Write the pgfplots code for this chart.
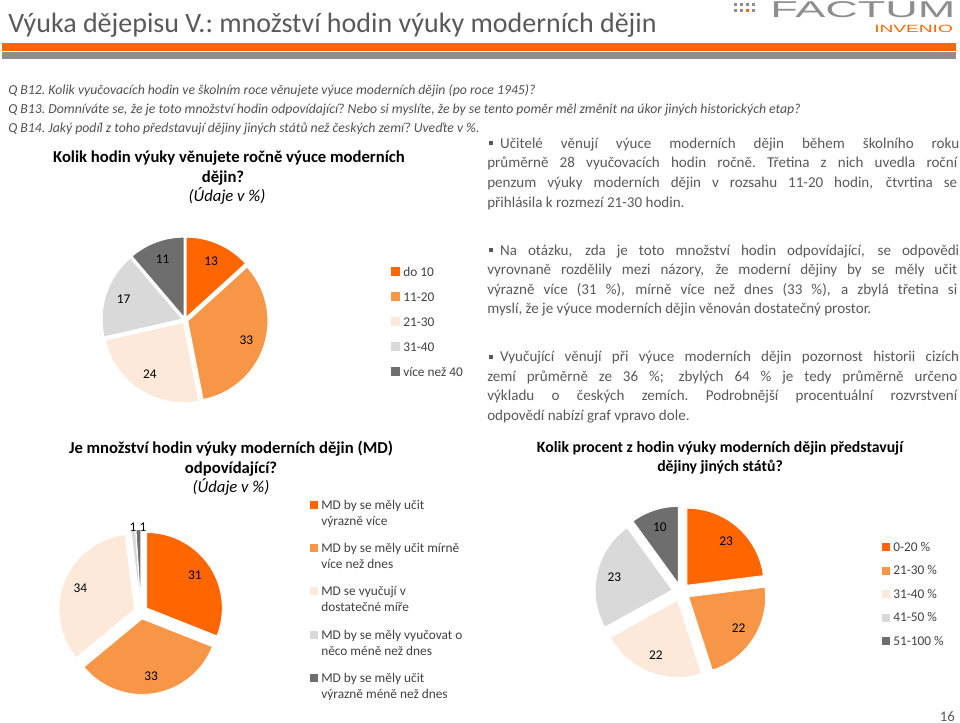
\documentclass[border=0pt]{standalone}
\usepackage{fontspec}
\setmainfont{Carlito}
\newfontfamily\logofont{Liberation Sans}
\usepackage{graphicx}
\usepackage{pgfplots}
\usepackage{pgfplotstable}
\pgfplotsset{compat=1.18}

\definecolor{cO}{HTML}{FF6600}
\definecolor{cLO}{HTML}{F79646}
\definecolor{cP}{HTML}{FDE9D9}
\definecolor{cG}{HTML}{D9D9D9}
\definecolor{cDG}{HTML}{6E6E6E}
\definecolor{barG}{HTML}{8E8E8E}
\definecolor{txtG}{HTML}{595959}
\definecolor{qG}{HTML}{505050}
\definecolor{legT}{HTML}{404040}

% ---- data ----
\pgfplotstableread{
value
13
33
24
17
11
}\pieA
\pgfplotstableread{
value
31
33
34
1
1
}\pieB
\pgfplotstableread{
value
23
22
22
23
10
}\pieC

\newcommand\pieprep[2]{%
  \xdef\pcum{0}%
  \pgfplotstablegetrowsof{#1}%
  \pgfmathtruncatemacro\plast{\pgfplotsretval-1}%
  \foreach \i in {0,...,\plast}{%
    \pgfplotstablegetelem{\i}{value}\of{#1}%
    \expandafter\xdef\csname #2v\i\endcsname{\pgfplotsretval}%
    \expandafter\xdef\csname #2s\i\endcsname{\pcum}%
    \pgfmathsetmacro\ptmp{\pcum+\pgfplotsretval}%
    \xdef\pcum{\ptmp}%
  }%
  \expandafter\xdef\csname #2t\endcsname{\pcum}%
}

\newcommand\pangles[2]{%
  \pgfmathsetmacro\wa{90-360*(\csname #1s#2\endcsname/\csname #1t\endcsname)}%
  \pgfmathsetmacro\wb{90-360*((\csname #1s#2\endcsname+\csname #1v#2\endcsname)/\csname #1t\endcsname)}%
  \pgfmathsetmacro\wm{(\wa+\wb)/2}%
}
% prefix, idx, cx, cy, R(px), e(px), colour
\newcommand\pwedge[7]{%
  \pangles{#1}{#2}%
  \pgfmathsetmacro\wr{0.75*#5}%
  \pgfmathsetmacro\we{0.75*#6}%
  \edef\pwtmp{\noexpand\fill[#7, draw=white, line width=0.6pt, line join=round] (axis cs:#3,#4) ++(\wm:\we pt) -- ++(\wa:\wr pt) arc[start angle=\wa, end angle=\wb, radius=\wr pt] -- cycle;}%
  \pwtmp
}
% prefix, idx, cx, cy, R(px), e(px)
\newcommand\plabel[6]{%
  \pangles{#1}{#2}%
  \pgfmathsetmacro\wl{0.75*(#6+0.77*#5)}%
  \edef\pwtmp{\noexpand\path (axis cs:#3,#4) ++(\wm:\wl pt) node[pielabel] {\csname #1v#2\endcsname};}%
  \pwtmp
}

\tikzset{
  pielabel/.style={inner sep=0pt, font=\fontsize{10}{12}\selectfont, text=black},
  qline/.style={anchor=base west, inner sep=0pt, font=\fontsize{10.3}{12}\selectfont\itshape, text=qG},
  body/.style={anchor=base west, inner sep=0pt, font=\fontsize{11.3}{13}\selectfont, text=txtG},
  ctitle/.style={anchor=base, inner sep=0pt, font=\fontsize{12.5}{14}\selectfont\bfseries, text=black},
  csub/.style={anchor=base, inner sep=0pt, font=\fontsize{12.5}{14}\selectfont\itshape, text=black},
  leg/.style={anchor=west, inner sep=0pt, font=\fontsize{10}{12}\selectfont, text=legT},
  legb/.style={anchor=base west, inner sep=0pt, font=\fontsize{10}{12}\selectfont, text=legT},
}
\newcommand\bul{\textcolor{txtG}{\rule[0.2em]{0.27em}{0.27em}}\hspace{0.45em}}
\newcommand\jl[1]{\makebox[352.5pt][s]{#1}}

\begin{document}
\begin{tikzpicture}
\pieprep{\pieA}{pA}
\pieprep{\pieB}{pB}
\pieprep{\pieC}{pC}
\useasboundingbox (0,0) rectangle (720pt,542.25pt);
\begin{axis}[at={(0,0)}, anchor=south west, x=0.75pt, y=0.75pt,
  xmin=0, xmax=960, ymin=0, ymax=723, y dir=reverse, hide axis, clip=false]

% ---- header ----
\node[anchor=base west, inner sep=0pt, font=\fontsize{21}{24}\selectfont, text=txtG] at (axis cs:8,33) {Výuka dějepisu V.:\ množství hodin výuky moderních dějin};
\fill[cO] (axis cs:2,43) rectangle (axis cs:956,51);
\fill[barG] (axis cs:2,52) rectangle (axis cs:956,59);
% logo
\fill[barG] (axis cs:734,3) rectangle (axis cs:737,6);
\fill[barG] (axis cs:740,3) rectangle (axis cs:743,6);
\fill[barG] (axis cs:746,3) rectangle (axis cs:749,6);
\fill[barG] (axis cs:752,3) rectangle (axis cs:755,6);
\fill[barG] (axis cs:734,9) rectangle (axis cs:737,12);
\fill[barG] (axis cs:740,9) rectangle (axis cs:743,12);
\fill[cO]   (axis cs:746,9) rectangle (axis cs:749,12);
\fill[barG] (axis cs:752,9) rectangle (axis cs:755,12);
\node[anchor=south west, inner sep=0pt, text=barG] at (axis cs:770,18) {\resizebox{138.75pt}{12pt}{\logofont FACTUM}};
\node[anchor=south west, inner sep=0pt, text=cO] at (axis cs:874,33) {\resizebox{59pt}{5.5pt}{\logofont INVENIO}};

% ---- questions ----
\node[qline] at (axis cs:8,95) {Q B12.\ Kolik vyučovacích hodin ve školním roce věnujete výuce moderních dějin (po roce 1945)?};
\node[qline] at (axis cs:8,114) {Q B13.\ Domníváte se, že je toto množství hodin odpovídající?\ Nebo si myslíte, že by se tento poměr měl změnit na úkor jiných historických etap?};
\node[qline] at (axis cs:8,133) {Q B14.\ Jaký podíl z toho představují dějiny jiných států než českých zemí?\ Uveďte v \%.};

% ---- text blocks ----
\node[body] at (axis cs:489,148.5) {\jl{\bul Učitelé věnují výuce moderních dějin během školního roku}};
\node[body] at (axis cs:487,168) {\jl{průměrně 28 vyučovacích hodin ročně.\ Třetina z nich uvedla roční}};
\node[body] at (axis cs:487,188) {\jl{penzum výuky moderních dějin v rozsahu 11-20 hodin, čtvrtina se}};
\node[body] at (axis cs:487,207.5) {přihlásila k rozmezí 21-30 hodin.};

\node[body] at (axis cs:489,255.5) {\jl{\bul Na otázku, zda je toto množství hodin odpovídající, se odpovědi}};
\node[body] at (axis cs:487,275) {\jl{vyrovnaně rozdělily mezi názory, že moderní dějiny by se měly učit}};
\node[body] at (axis cs:487,294.5) {\jl{výrazně více (31 \%), mírně více než dnes (33 \%), a zbylá třetina si}};
\node[body] at (axis cs:487,314) {myslí, že je výuce moderních dějin věnován dostatečný prostor.};

\node[body] at (axis cs:489,362) {\jl{\bul Vyučující věnují při výuce moderních dějin pozornost historii cizích}};
\node[body] at (axis cs:487,381.5) {\jl{zemí průměrně ze 36 \%; zbylých 64 \% je tedy průměrně určeno}};
\node[body] at (axis cs:487,401) {\jl{výkladu o českých zemích.\ Podrobnější procentuální rozvrstvení}};
\node[body] at (axis cs:487,420.5) {odpovědí nabízí graf vpravo dole.};

% ---- chart 1 ----
\node[ctitle] at (axis cs:229,163) {Kolik hodin výuky věnujete ročně výuce moderních};
\node[ctitle] at (axis cs:223,183) {dějin?};
\node[csub] at (axis cs:227,202) {(Údaje v \%)};
\pwedge{pA}{0}{185}{320}{80}{3}{cO}
\pwedge{pA}{1}{185}{320}{80}{3}{cLO}
\pwedge{pA}{2}{185}{320}{80}{3}{cP}
\pwedge{pA}{3}{185}{320}{80}{3}{cG}
\pwedge{pA}{4}{185}{320}{80}{3}{cDG}
\plabel{pA}{0}{185}{320}{80}{3}
\plabel{pA}{1}{185}{320}{80}{3}
\plabel{pA}{2}{185}{320}{80}{3}
\plabel{pA}{3}{185}{320}{80}{3}
\plabel{pA}{4}{185}{320}{80}{3}
\fill[cO]  (axis cs:391,267.5) rectangle (axis cs:400,276.5);
\fill[cLO] (axis cs:391,292.5) rectangle (axis cs:400,301.5);
\fill[cP]  (axis cs:391,317.5) rectangle (axis cs:400,326.5);
\fill[cG]  (axis cs:391,342.5) rectangle (axis cs:400,351.5);
\fill[cDG] (axis cs:391,367.5) rectangle (axis cs:400,376.5);
\node[leg] at (axis cs:403,272) {do 10};
\node[leg] at (axis cs:403,297) {11-20};
\node[leg] at (axis cs:403,322) {21-30};
\node[leg] at (axis cs:403,347) {31-40};
\node[leg] at (axis cs:403,372) {více než 40};

% ---- chart 2 ----
\node[ctitle] at (axis cs:231,453) {Je množství hodin výuky moderních dějin (MD)};
\node[ctitle] at (axis cs:231,473) {odpovídající?};
\node[csub] at (axis cs:231,492) {(Údaje v \%)};
\pwedge{pB}{0}{141}{612}{75.5}{7}{cO}
\pwedge{pB}{1}{141}{612}{75.5}{7}{cLO}
\pwedge{pB}{2}{141}{612}{75.5}{7}{cP}
\pwedge{pB}{3}{141}{612}{75.5}{7}{cG}
\pwedge{pB}{4}{141}{612}{75.5}{7}{cDG}
\plabel{pB}{0}{141}{612}{75.5}{7}
\plabel{pB}{1}{141}{612}{75.5}{7}
\plabel{pB}{2}{141}{612}{75.5}{7}
\node[pielabel] at (axis cs:133,527) {\csname pBv3\endcsname};
\node[pielabel] at (axis cs:143,527) {\csname pBv4\endcsname};
\fill[cO]  (axis cs:310,501) rectangle (axis cs:318,509);
\fill[cLO] (axis cs:310,544) rectangle (axis cs:318,552);
\fill[cP]  (axis cs:310,587) rectangle (axis cs:318,595);
\fill[cG]  (axis cs:310,631) rectangle (axis cs:318,639);
\fill[cDG] (axis cs:310,674) rectangle (axis cs:318,682);
\node[legb] at (axis cs:321,509) {MD by se měly učit};
\node[legb] at (axis cs:321,525) {výrazně více};
\node[legb] at (axis cs:321,552) {MD by se měly učit mírně};
\node[legb] at (axis cs:321,568) {více než dnes};
\node[legb] at (axis cs:321,595) {MD se vyučují v};
\node[legb] at (axis cs:321,611) {dostatečné míře};
\node[legb] at (axis cs:321,639) {MD by se měly vyučovat o};
\node[legb] at (axis cs:321,655) {něco méně než dnes};
\node[legb] at (axis cs:321,682) {MD by se měly učit};
\node[legb] at (axis cs:321,698) {výrazně méně než dnes};

% ---- chart 3 ----
\node[ctitle, font=\fontsize{11.8}{13}\selectfont\bfseries] at (axis cs:720,452) {Kolik procent z hodin výuky moderních dějin představují};
\node[ctitle, font=\fontsize{11.8}{13}\selectfont\bfseries] at (axis cs:720,471) {dějiny jiných států?};
\pwedge{pC}{0}{681}{592}{77}{9}{cO}
\pwedge{pC}{1}{681}{592}{77}{9}{cLO}
\pwedge{pC}{2}{681}{592}{77}{9}{cP}
\pwedge{pC}{3}{681}{592}{77}{9}{cG}
\pwedge{pC}{4}{681}{592}{77}{9}{cDG}
\plabel{pC}{0}{681}{592}{77}{9}
\plabel{pC}{1}{681}{592}{77}{9}
\plabel{pC}{2}{681}{592}{77}{9}
\plabel{pC}{3}{681}{592}{77}{9}
\plabel{pC}{4}{681}{592}{77}{9}
\fill[cO]  (axis cs:882,543) rectangle (axis cs:890,551);
\fill[cLO] (axis cs:882,566.5) rectangle (axis cs:890,574.5);
\fill[cP]  (axis cs:882,590) rectangle (axis cs:890,598);
\fill[cG]  (axis cs:882,613.5) rectangle (axis cs:890,621.5);
\fill[cDG] (axis cs:882,637) rectangle (axis cs:890,645);
\node[leg] at (axis cs:893,547) {0-20 \%};
\node[leg] at (axis cs:893,570.5) {21-30 \%};
\node[leg] at (axis cs:893,594) {31-40 \%};
\node[leg] at (axis cs:893,617.5) {41-50 \%};
\node[leg] at (axis cs:893,641) {51-100 \%};

% page number
\node[anchor=base east, inner sep=0pt, font=\fontsize{11}{13}\selectfont, text=txtG] at (axis cs:955,721) {16};
\end{axis}
\end{tikzpicture}
\end{document}
